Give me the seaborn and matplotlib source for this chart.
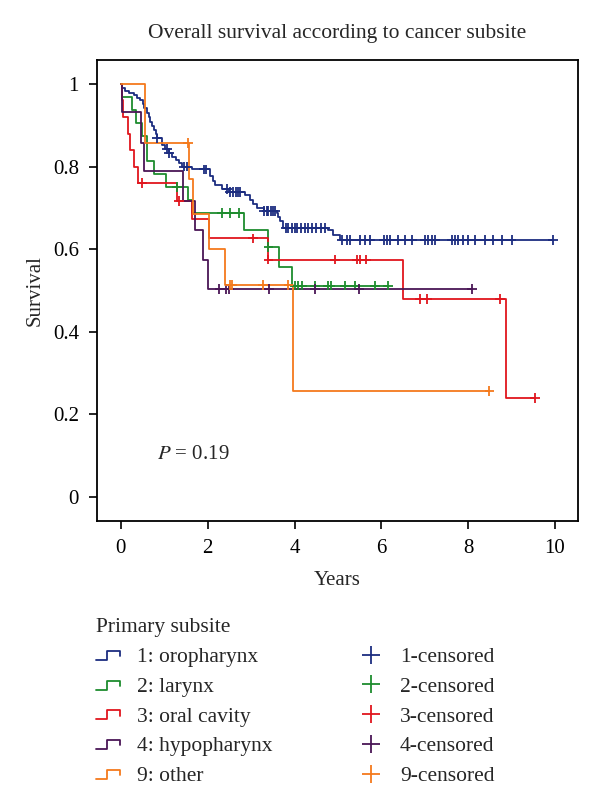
import numpy as np
import pandas as pd
import matplotlib
matplotlib.use("Agg")
import matplotlib.pyplot as plt
import seaborn as sns
from matplotlib.legend_handler import HandlerBase
from matplotlib.lines import Line2D

# Kaplan-Meier steps (time in years, survival after the drop)
groups = ["1: oropharynx", "2: larynx", "3: oral cavity", "4: hypopharynx", "9: other"]
colors = ["#1c2d80", "#1e8c2e", "#e0161e", "#4a1656", "#f47a1c"]

oro_times = [0.02, 0.1, 0.18, 0.3, 0.38, 0.45, 0.5, 0.53, 0.6, 0.64, 0.68, 0.72, 0.76, 0.8,
             0.84, 0.95, 1.02, 1.1, 1.18, 1.26, 1.35, 1.41, 1.64, 2.06, 2.12, 2.17, 2.33,
             2.5, 2.85, 2.98, 3.05, 3.13, 3.3, 3.59, 3.63, 3.67, 3.74, 4.78, 4.89, 5.05]
oro_surv = [0.99, 0.983, 0.977, 0.973, 0.967, 0.961, 0.951, 0.941, 0.929, 0.919, 0.909,
            0.899, 0.889, 0.878, 0.868, 0.852, 0.842, 0.832, 0.824, 0.816, 0.808, 0.8,
            0.793, 0.776, 0.766, 0.755, 0.745, 0.739, 0.73, 0.719, 0.709, 0.699, 0.692,
            0.687, 0.678, 0.668, 0.651, 0.646, 0.634, 0.623]
oro_cens = [0.84, 1.07, 1.1, 1.45, 1.53, 1.91, 1.95, 2.45, 2.52, 2.58, 2.65, 2.7, 2.75,
            3.3, 3.36, 3.4, 3.45, 3.5, 3.55, 3.8, 3.85, 3.95, 4.0, 4.05, 4.15, 4.25, 4.3,
            4.4, 4.5, 4.6, 4.7, 5.09, 5.2, 5.28, 5.51, 5.63, 5.74, 6.05, 6.12, 6.2, 6.39,
            6.54, 6.7, 7.0, 7.08, 7.16, 7.24, 7.62, 7.7, 7.77, 7.89, 8.0, 8.16, 8.39, 8.58,
            8.77, 9.0, 9.96]

lar_times = [0.03, 0.26, 0.34, 0.49, 0.6, 0.76, 1.03, 1.55, 1.63, 2.84, 3.4, 3.65, 3.94]
lar_surv = [0.969, 0.938, 0.906, 0.875, 0.813, 0.781, 0.75, 0.719, 0.687, 0.646, 0.605,
            0.558, 0.512]
lar_cens = [1.3, 2.32, 2.52, 2.73, 3.4, 4.01, 4.09, 4.17, 4.47, 4.78, 4.83, 5.16, 5.39,
            5.86, 6.16]

ora_times = [0.02, 0.05, 0.17, 0.2, 0.3, 0.4, 1.29, 1.63, 2.04, 3.4, 6.51, 8.87]
ora_surv = [0.96, 0.92, 0.88, 0.84, 0.8, 0.76, 0.717, 0.673, 0.626, 0.575, 0.479, 0.24]
ora_cens = [0.48, 1.33, 3.04, 3.4, 4.93, 5.43, 5.51, 5.64, 6.89, 7.05, 8.73, 9.54]

hyp_times = [0.02, 0.47, 0.53, 1.43, 1.71, 1.9, 2.0]
hyp_surv = [0.933, 0.857, 0.79, 0.717, 0.646, 0.574, 0.503]
hyp_cens = [2.27, 2.42, 2.49, 3.42, 4.47, 5.49, 8.08]

oth_times = [0.55, 1.58, 1.66, 2.04, 2.4, 3.97]
oth_surv = [0.857, 0.77, 0.686, 0.6, 0.514, 0.257]
oth_cens = [1.55, 2.52, 2.56, 3.28, 3.86, 8.49]

all_times = [oro_times, lar_times, ora_times, hyp_times, oth_times]
all_surv = [oro_surv, lar_surv, ora_surv, hyp_surv, oth_surv]
all_cens = [oro_cens, lar_cens, ora_cens, hyp_cens, oth_cens]

curve_rows, cens_rows = [], []
for g, t, s, c in zip(groups, all_times, all_surv, all_cens):
    end = max(max(c), max(t))
    xs = [0.0] + list(t) + [end]
    ys = [1.0] + list(s) + [s[-1]]
    curve_rows += [(g, x, y) for x, y in zip(xs, ys)]
    t_arr = np.array([0.0] + list(t))
    s_arr = np.array([1.0] + list(s))
    for ct in c:
        idx = np.searchsorted(t_arr, ct, side="right") - 1
        cens_rows.append((g, ct, s_arr[idx]))
curves = pd.DataFrame(curve_rows, columns=["group", "years", "survival"])
cens = pd.DataFrame(cens_rows, columns=["group", "years", "survival"])

sns.set_style("ticks")
plt.rcParams["font.family"] = ["Liberation Serif", "DejaVu Serif"]
plt.rcParams["font.size"] = 15
plt.rcParams["mathtext.fontset"] = "stix"

fig = plt.figure(figsize=(6, 7.88), dpi=100)
ax = fig.add_axes([97 / 600, 1 - 521 / 788, 481 / 600, 461 / 788])
pal = dict(zip(groups, colors))

sns.lineplot(data=curves, x="years", y="survival", hue="group", palette=pal,
             estimator=None, sort=False, drawstyle="steps-post", lw=1.3,
             legend=False, ax=ax)
sns.scatterplot(data=cens, x="years", y="survival", hue="group", palette=pal,
                marker="+", s=50, linewidth=1.3, legend=False, ax=ax, zorder=3)

ax.set_xlim(-0.55, 10.53)
ax.set_ylim(-0.058, 1.058)
ax.set_xticks(range(0, 11, 2))
ax.set_yticks([0, 0.2, 0.4, 0.6, 0.8, 1])
ax.set_yticklabels(["0", "0.2", "0.4", "0.6", "0.8", "1"])
ax.tick_params(direction="out", length=6, width=1.2, pad=7, labelsize=15, colors="black")
for sp in ax.spines.values():
    sp.set_visible(True)
    sp.set_linewidth(1.3)
    sp.set_color("black")
ax.set_xlabel("Years", fontsize=15, labelpad=9)
ax.set_ylabel("Survival", fontsize=15, labelpad=6)
ax.set_title("Overall survival according to cancer subsite", fontsize=15.5, pad=16)
ax.text(0.84, 0.092, "$P$ = 0.19", fontsize=15)


class StepHandle:
    def __init__(self, color):
        self.color = color


class StepHandler(HandlerBase):
    def create_artists(self, legend, orig_handle, xdescent, ydescent, width, height,
                       fontsize, trans):
        w, h = width, height
        xs = np.array([0, 0.45, 0.45, 1.0, 1.0]) * w - xdescent
        ys = np.array([0.15, 0.15, 0.75, 0.75, 0.4]) * h - ydescent
        line = Line2D(xs, ys, color=orig_handle.color, lw=1.3)
        line.set_transform(trans)
        return [line]


handles = [StepHandle(c) for c in colors]
handles += [Line2D([], [], color=c, marker="+", ls="", markersize=13, mew=1.3) for c in colors]
labels = groups + [g.split(":")[0] + "-censored" for g in groups]
fig.legend(handles, labels, loc="upper left", bbox_to_anchor=(77 / 600, 1 - 599 / 788),
           ncol=2, frameon=False, title="Primary subsite", alignment="left",
           handler_map={StepHandle: StepHandler()}, fontsize=15.5, title_fontsize=15.5,
           handlelength=1.1, handletextpad=0.8, columnspacing=4.0, labelspacing=0.45)

fig.savefig("out.png", dpi=100)
